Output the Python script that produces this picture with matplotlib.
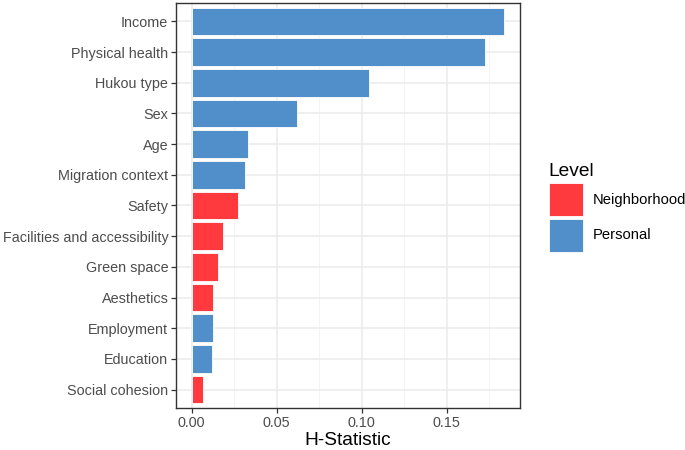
import matplotlib
matplotlib.use('Agg')
from matplotlib import pyplot as plt
from matplotlib.patches import Rectangle
from matplotlib.ticker import MultipleLocator

plt.rcParams['font.family'] = ['Liberation Sans', 'DejaVu Sans']

# data, top to bottom as drawn
factors = ['Income', 'Physical health', 'Hukou type', 'Sex', 'Age',
           'Migration context', 'Safety', 'Facilities and accessibility',
           'Green space', 'Aesthetics', 'Employment', 'Education',
           'Social cohesion']
h_stat = [0.184, 0.1727, 0.1045, 0.0617, 0.0332, 0.0316, 0.0273,
          0.0185, 0.0154, 0.0127, 0.0125, 0.0117, 0.0066]
level = ['Personal', 'Personal', 'Personal', 'Personal', 'Personal',
         'Personal', 'Neighborhood', 'Neighborhood', 'Neighborhood',
         'Neighborhood', 'Personal', 'Personal', 'Neighborhood']

level_names = ['Neighborhood', 'Personal']
level_colors = {'Neighborhood': '#FF3A3F', 'Personal': '#518FCB'}

fig = plt.figure(figsize=(6.85, 4.5), dpi=100)
ax = fig.add_axes([176 / 685, 1 - 408 / 450, (520 - 176) / 685, (408 - 3) / 450])

n = len(factors)
ypos = [n - 1 - i for i in range(n)]
ax.barh(ypos, h_stat, height=0.9,
        color=[level_colors[l] for l in level],
        edgecolor='white', linewidth=0.6, zorder=3)

ax.set_yticks(ypos)
ax.set_yticklabels(factors)
ax.set_ylim(-0.6, n - 0.4)

xmax = max(h_stat)
pad = 0.05 * xmax
ax.set_xlim(-pad, xmax + pad)
ax.xaxis.set_minor_locator(MultipleLocator(0.025))
ax.set_xticks([0, 0.05, 0.10, 0.15])
ax.set_xticklabels(['0.00', '0.05', '0.10', '0.15'])

# theme_bw look
ax.grid(True, which='major', color='#EBEBEB', linewidth=1.1, zorder=0)
ax.grid(True, which='minor', axis='x', color='#F2F2F2', linewidth=0.6, zorder=0)
ax.tick_params(which='minor', length=0)
ax.tick_params(which='major', length=3.5, width=0.9, color='#333333',
               labelsize=10.4, labelcolor='#4D4D4D', pad=2.0)
for s in ax.spines.values():
    s.set_color('#333333')
    s.set_linewidth(1.0)
ax.set_xlabel('H-Statistic', fontsize=13.8, color='black', labelpad=2)

# legend
fig.text(548 / 685, 1 - 171 / 450, 'Level', fontsize=13.8, va='center', ha='left')
for k, name in enumerate(level_names):
    top = 183.5 + k * 35
    fig.patches.append(Rectangle((548.5 / 685, 1 - (top + 33) / 450), 34.5 / 685, 33 / 450,
                                 transform=fig.transFigure, facecolor=level_colors[name],
                                 edgecolor='white', linewidth=0.6))
    fig.text(593 / 685, 1 - (top + 16.5) / 450, name, fontsize=10.6, va='center', ha='left')

plt.savefig('out.png', dpi=100)
